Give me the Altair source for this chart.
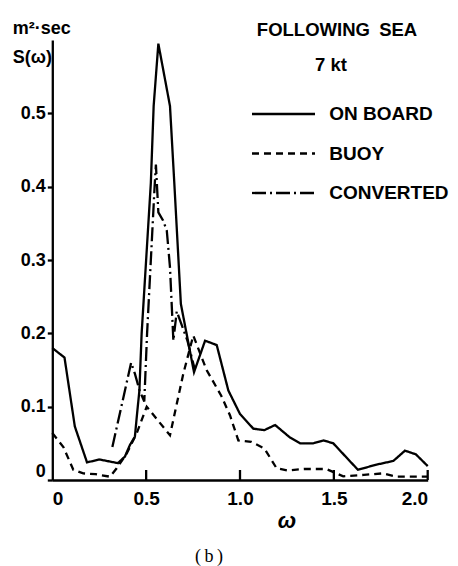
import altair as alt
import pandas as pd

# ---- data ----
series_names = ["ON BOARD", "BUOY", "CONVERTED"]

onboard_w = [0.0, 0.065, 0.12, 0.185, 0.25, 0.35, 0.387, 0.414, 0.44, 0.45, 0.464, 0.476,
             0.525, 0.54, 0.565, 0.627, 0.65, 0.685, 0.755, 0.814, 0.876, 0.938, 1.0,
             1.071, 1.13, 1.187, 1.266, 1.32, 1.39, 1.445, 1.497, 1.628, 1.728, 1.817,
             1.879, 1.937, 2.0]
onboard_s = [0.18, 0.167, 0.073, 0.024, 0.028, 0.023, 0.032, 0.048, 0.059, 0.086, 0.122, 0.2,
             0.405, 0.51, 0.595, 0.51, 0.405, 0.24, 0.147, 0.19, 0.184, 0.122, 0.09,
             0.07, 0.068, 0.075, 0.058, 0.05, 0.05, 0.054, 0.05, 0.014, 0.021, 0.026,
             0.04, 0.035, 0.019]

buoy_w = [0.0, 0.059, 0.112, 0.165, 0.23, 0.307, 0.343, 0.396, 0.45, 0.503, 0.627, 0.698,
          0.751, 0.822, 0.9, 0.947, 0.991, 1.06, 1.13, 1.195, 1.25, 1.34, 1.46, 1.55,
          1.66, 1.76, 1.835, 2.0]
buoy_s = [0.064, 0.045, 0.014, 0.009, 0.008, 0.0045, 0.016, 0.036, 0.064, 0.1, 0.061, 0.145,
          0.197, 0.15, 0.115, 0.088, 0.054, 0.052, 0.043, 0.016, 0.013, 0.015, 0.015, 0.005,
          0.007, 0.009, 0.0045, 0.0045]

conv_w = [0.32, 0.42, 0.44, 0.465, 0.49, 0.505, 0.545, 0.552, 0.565, 0.59, 0.61, 0.627,
          0.645, 0.663, 0.68, 0.72, 0.76]
conv_s = [0.045, 0.16, 0.145, 0.122, 0.107, 0.2, 0.4, 0.43, 0.365, 0.354, 0.34, 0.29,
          0.19, 0.23, 0.218, 0.19, 0.15]

x_ticks = [0, 0.5, 1.0, 1.5, 2.0]
y_ticks = [0, 0.1, 0.2, 0.3, 0.4, 0.5]

rows = []
for name, ws, ss in [("ON BOARD", onboard_w, onboard_s),
                     ("BUOY", buoy_w, buoy_s),
                     ("CONVERTED", conv_w, conv_s)]:
    for i, (w, s) in enumerate(zip(ws, ss)):
        rows.append({"omega": w, "S": s, "series": name, "idx": i})
df = pd.DataFrame(rows)

FONT = "Liberation Sans"
LW = 2.3

dash_scale = alt.Scale(domain=series_names, range=[[1, 0], [7, 5], [14, 4, 2, 4]])
label_expr = "datum.value == 0 ? '0' : format(datum.value, '.1f')"

xaxis = alt.Axis(values=x_ticks, labelExpr=label_expr, ticks=False, tickSize=0,
                 labelPadding=9, labelFont=FONT, labelFontSize=19, labelFontWeight="bold",
                 labelColor="black", domainColor="black", domainWidth=LW, grid=False,
                 title="ω", titleFont=FONT, titleFontSize=22, titleFontWeight="bold",
                 titleFontStyle="italic", titleColor="black", titleX=234, titleY=47,
                 titleBaseline="alphabetic", titleAlign="center")

yaxis = alt.Axis(values=y_ticks, labelExpr=label_expr, tickSize=5, tickWidth=LW,
                 tickColor="black", labelPadding=2, labelFont=FONT, labelFontSize=18,
                 labelFontWeight="bold", labelColor="black",
                 labelBaseline=alt.condition("datum.value == 0", alt.value("bottom"), alt.value("middle")),
                 domainColor="black", domainWidth=LW, grid=False,
                 title=["m²·sec", "S(ω)"], titleAngle=0, titleAlign="left",
                 titleX=-40, titleY=-7, titleBaseline="alphabetic", titleLineHeight=29,
                 titleFont=FONT, titleFontSize=18, titleFontWeight="bold", titleColor="black")

xscale = alt.Scale(domain=[0, 2], nice=False, zero=False)

lines = alt.Chart(df).mark_line(color="black", strokeWidth=LW).encode(
    x=alt.X("omega:Q", scale=xscale, axis=xaxis),
    y=alt.Y("S:Q", scale=alt.Scale(domain=[0, 0.6], nice=False), axis=yaxis),
    strokeDash=alt.StrokeDash("series:N", scale=dash_scale, legend=None),
    detail="series:N",
    order="idx:Q",
)

tick_df = pd.DataFrame({"tick": x_ticks[1:]})
ticks = alt.Chart(tick_df).mark_rule(color="black", strokeWidth=LW).encode(
    x=alt.X("tick:Q", scale=xscale, axis=xaxis),
    y=alt.value(440),
    y2=alt.value(430),
)

leg_df = pd.DataFrame({"series": series_names})
leg_y = alt.Y("series:N", scale=alt.Scale(type="point", domain=series_names,
                                          range=[74, 153], padding=0), axis=None)
leg_lines = alt.Chart(leg_df).mark_rule(color="black", strokeWidth=LW).encode(
    x=alt.value(199.7), x2=alt.value(262.7), y=leg_y,
    strokeDash=alt.StrokeDash("series:N", scale=dash_scale, legend=None),
)
leg_text = alt.Chart(leg_df).mark_text(align="left", baseline="middle", font=FONT,
                                       fontSize=19, fontWeight="bold", color="black").encode(
    x=alt.value(277), y=leg_y, text="series:N",
)

def note(text, x, y, **kw):
    return alt.Chart(pd.DataFrame({"t": [text]})).mark_text(
        align="center", baseline="middle", color="black", **kw
    ).encode(x=alt.value(x), y=alt.value(y), text="t:N")

t1 = note("FOLLOWING\u2002SEA", 284.7, -10, font=FONT, fontSize=18.5, fontWeight="bold")
t2 = note("7 kt", 278.7, 25, font=FONT, fontSize=18.5, fontWeight="bold")
t3 = note("(\u2009b\u2009)", 156.7, 517, font="Liberation Serif", fontSize=18)

chart = alt.layer(lines, ticks, leg_lines, leg_text, t1, t2, t3).resolve_scale(
    y="independent"
).properties(
    width=375.4, height=440,
    autosize=alt.AutoSizeParams(type="none"),
    padding={"left": 52.3, "top": 40, "right": 30.3, "bottom": 86},
    background="white",
).configure_view(stroke=None)

chart.save("out.html", embed_options={"renderer": "svg", "actions": False})
